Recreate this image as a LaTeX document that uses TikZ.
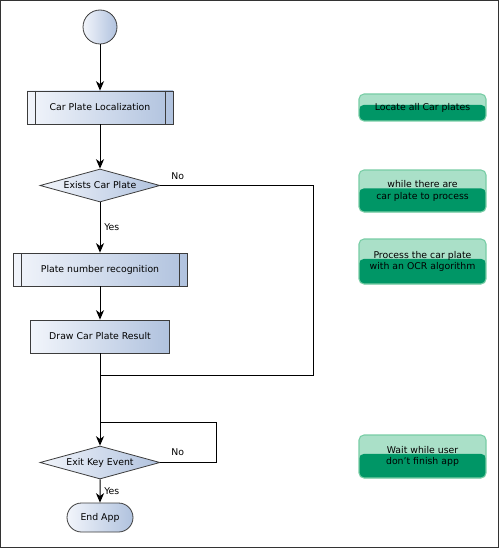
\documentclass[tikz,border=0pt]{standalone}
\usepackage{fontspec}
\setmainfont{DejaVu Sans}
\usepackage{tikz}
\usetikzlibrary{arrows.meta,shapes.geometric,shapes.misc}

\definecolor{frameGray}{RGB}{51,51,51}
\definecolor{lineGray}{RGB}{60,60,60}
\definecolor{blueLight}{RGB}{242,245,251}
\definecolor{blueDark}{RGB}{176,194,222}
\definecolor{greenLight}{RGB}{170,224,200}
\definecolor{greenDark}{RGB}{0,150,102}
\definecolor{greenEdge}{RGB}{120,205,165}

\tikzset{
  flow/.style={draw=lineGray, line width=0.6pt, left color=blueLight, right color=blueDark,
    font=\fontsize{7}{8}\selectfont, inner sep=0pt},
  startnode/.style={flow, circle, minimum size=25.5pt},
  subproc/.style={flow, rectangle, minimum height=24.75pt,
    path picture={
      \draw[lineGray, line width=0.6pt] ([xshift=6pt]path picture bounding box.north west) -- ([xshift=6pt]path picture bounding box.south west);
      \draw[lineGray, line width=0.6pt] ([xshift=-6pt]path picture bounding box.north east) -- ([xshift=-6pt]path picture bounding box.south east);
    }},
  procbox/.style={flow, rectangle, minimum height=24.75pt},
  decision/.style={flow, diamond, minimum width=90pt, minimum height=24.75pt, shape aspect=3.6},
  endnode/.style={flow, rounded rectangle, minimum width=49.5pt, minimum height=21.75pt},
  note/.style={draw=greenEdge, line width=0.8pt, rounded corners=3.75pt, fill=greenLight,
    minimum width=95.25pt, align=center, font=\fontsize{7}{8.5}\selectfont, text=black, inner sep=0pt,
    path picture={
      \fill[greenDark] ([yshift=2pt]path picture bounding box.west) rectangle (path picture bounding box.south east);
    }},
  flowarrow/.style={-{Stealth[length=7pt,width=6pt,inset=2pt]}, line width=0.75pt, black},
  flowline/.style={line width=0.75pt, black},
  lbl/.style={font=\fontsize{7}{8}\selectfont, inner sep=0.75pt}
}

\begin{document}
\begin{tikzpicture}[x=0.75pt,y=0.75pt,yscale=-1,xscale=1]
    \useasboundingbox (0,0) rectangle (500,549);
    %Frame
    \draw [frameGray, line width=0.8pt] (0.5,0.5) rectangle (498.5,547.5);

    %Shape: Flow nodes
    \node [startnode] (start) at (100,27) {};
    \node [subproc, minimum width=109.5pt] (localize) at (100,107.5) {Car Plate Localization};
    \node [decision] (exists) at (100,185.5) {Exists Car Plate};
    \node [subproc, minimum width=130.5pt] (recog) at (100,269.5) {Plate number recognition};
    \node [procbox, minimum width=104.25pt] (result) at (100,336.5) {Draw Car Plate Result};
    \node [decision] (exitkey) at (100,462.5) {Exit Key Event};
    \node [endnode] (endapp) at (100,517.5) {End App};

    %Shape: Notes
    \node [note, minimum height=20.25pt] (noteLocate) at (422.5,107.5) {Locate all Car plates};
    \node [note, minimum height=31.5pt] (noteWhile) at (422.5,191) {while there are\\car plate to process};
    \node [note, minimum height=33.75pt] (noteOcr) at (422.5,261.5) {Process the car plate\\with an OCR algorithm};
    \node [note, minimum height=32.25pt] (noteWait) at (422.5,456.5) {Wait while user\\don't finish app};

    %Loop corners
    \coordinate (joinA) at (100,375);
    \coordinate (cornerA) at (313,185.5);
    \coordinate (joinB) at (100,422);
    \coordinate (cornerB) at (216,462.5);

    %Straight Lines
    \draw [flowarrow] (start) -- (localize);
    \draw [flowarrow] (localize) -- (exists);
    \draw [flowarrow] (exists) -- (recog);
    \draw [flowarrow] (recog) -- (result);
    \draw [flowarrow] (result) -- (exitkey);
    \draw [flowarrow] (exitkey) -- (endapp);
    \draw [flowline] (exists.east) -- (cornerA) |- (joinA);
    \draw [flowline] (exitkey.east) -- (cornerB) |- (joinB);

    % Text Node
    \node [lbl, anchor=west] (noA) at (170,176) {No};
    % Text Node
    \node [lbl, anchor=west] (yesA) at (103,227) {Yes};
    % Text Node
    \node [lbl, anchor=west] (noB) at (170,452) {No};
    % Text Node
    \node [lbl, anchor=west] (yesB) at (103,491) {Yes};
\end{tikzpicture}
\end{document}
